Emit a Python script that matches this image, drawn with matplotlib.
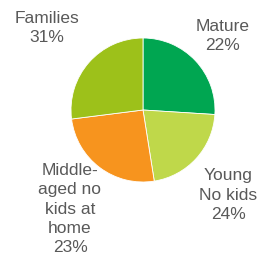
import matplotlib.pyplot as plt

segments = ["Mature", "Young\nNo kids", "Middle-\naged no\nkids at\nhome", "Families"]
percent_labels = ["22%", "24%", "23%", "31%"]
# slice sizes as drawn in the picture (the printed labels differ from the drawn arcs)
slice_share = [26, 21.5, 25.5, 27]
colors = ["#00A651", "#BFD84A", "#F7941E", "#9DC11A"]

plt.rcParams["font.family"] = ["Liberation Sans", "DejaVu Sans"]

W, H = 260, 257
fig = plt.figure(figsize=(W / 100, H / 100), dpi=100)
cx, cy, r = 143, 110, 72
ax = fig.add_axes([(cx - r) / W, (H - cy - r) / H, 2 * r / W, 2 * r / H])
ax.pie(slice_share, colors=colors, startangle=90, counterclock=False,
       wedgeprops=dict(edgecolor="white", linewidth=0.6))
ax.set_xlim(-1, 1)
ax.set_ylim(-1, 1)
ax.set_aspect("equal")
ax.axis("off")

# label centres in pixels
label_pos = [(223, 36), (228, 195), (70, 209), (47, 28)]
for name, pct, (px, py) in zip(segments, percent_labels, label_pos):
    fig.text(px / W, 1 - py / H, name + "\n" + pct, ha="center", va="center",
             fontsize=12.5, color="#595959", linespacing=1.34)

fig.savefig("out.png", dpi=100)
